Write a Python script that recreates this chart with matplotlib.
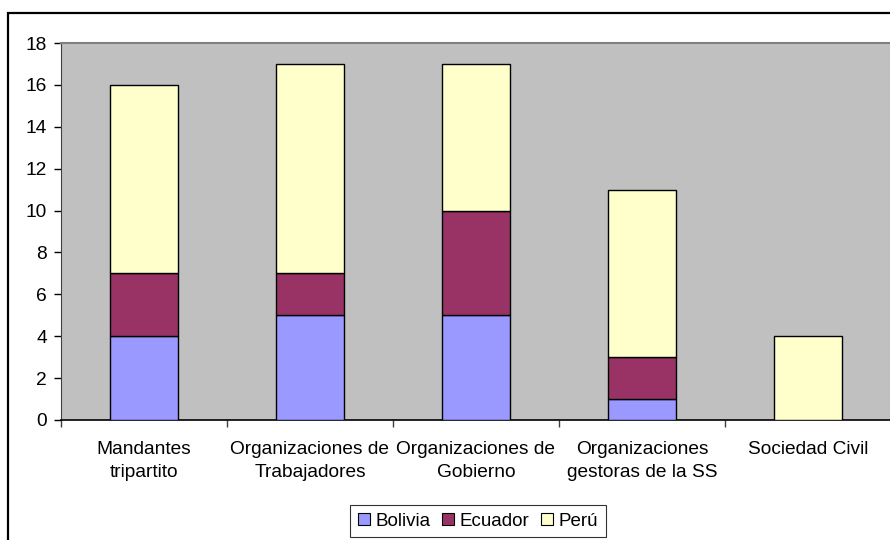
import matplotlib
matplotlib.use("Agg")
import matplotlib.pyplot as plt
from matplotlib.patches import Rectangle, Patch
import numpy as np

categories = ["Mandantes\ntripartito", "Organizaciones de\nTrabajadores",
              "Organizaciones de\nGobierno", "Organizaciones\ngestoras de la SS",
              "Sociedad Civil"]
series_names = ["Bolivia", "Ecuador", "Perú"]
bolivia = [4, 5, 5, 1, 0]
ecuador = [3, 2, 5, 2, 0]
peru = [9, 10, 7, 8, 4]
yticks = [0, 2, 4, 6, 8, 10, 12, 14, 16, 18]
colors = ["#9999FF", "#993366", "#FFFFCC"]

plt.rcParams['font.family'] = ['Liberation Sans', 'DejaVu Sans']
W, H = 890, 540
fig = plt.figure(figsize=(W / 100, H / 100), dpi=100)
fig.patch.set_facecolor("white")

ax = fig.add_axes([61 / W, (H - 420) / H, 830 / W, 377 / H])
ax.set_facecolor("#C0C0C0")
x = np.arange(len(categories))
bottom = np.zeros(len(categories))
for vals, name, c in zip([bolivia, ecuador, peru], series_names, colors):
    v = np.array(vals, dtype=float)
    ax.bar(x, v, bottom=bottom, width=0.41, color=c, edgecolor="black",
           linewidth=1.0, label=name, zorder=3)
    bottom += v

ax.set_xlim(-0.5, len(categories) - 0.5)
ax.set_ylim(0, 18)
ax.set_yticks(yticks)
ax.tick_params(axis="y", direction="out", length=5, width=1, colors="black",
               labelsize=13.8, pad=5)
ax.set_xticks(x)
ax.set_xticklabels(categories, fontsize=13.8, linespacing=1.45)
ax.tick_params(axis="x", which="major", length=0, pad=15)
ax.set_xticks(np.arange(-0.5, len(categories) - 0.4, 1.0), minor=True)
ax.tick_params(axis="x", which="minor", length=5, width=1, direction="out", color="#404040")

for s in ["top", "right"]:
    ax.spines[s].set_color("#808080")
    ax.spines[s].set_linewidth(1.5)
ax.spines["left"].set_color("#404040")
ax.spines["bottom"].set_color("black")
ax.spines["bottom"].set_linewidth(1.2)

handles = [Patch(facecolor=c, edgecolor="black", linewidth=0.8) for c in colors]
leg = fig.legend(handles, series_names, loc="center", bbox_to_anchor=(478 / W, (H - 521) / H),
                 ncol=3, fontsize=13.5, frameon=True, fancybox=False,
                 handlelength=0.65, handleheight=0.65, handletextpad=0.3,
                 columnspacing=0.6, borderpad=0.4, edgecolor="black")
leg.get_frame().set_linewidth(0.8)

fig.patches.append(Rectangle((8 / W, -0.1), 1.2, (H - 13) / H + 0.1,
                             transform=fig.transFigure, fill=False,
                             edgecolor="black", linewidth=1.6))

fig.savefig("out.png", dpi=100)
